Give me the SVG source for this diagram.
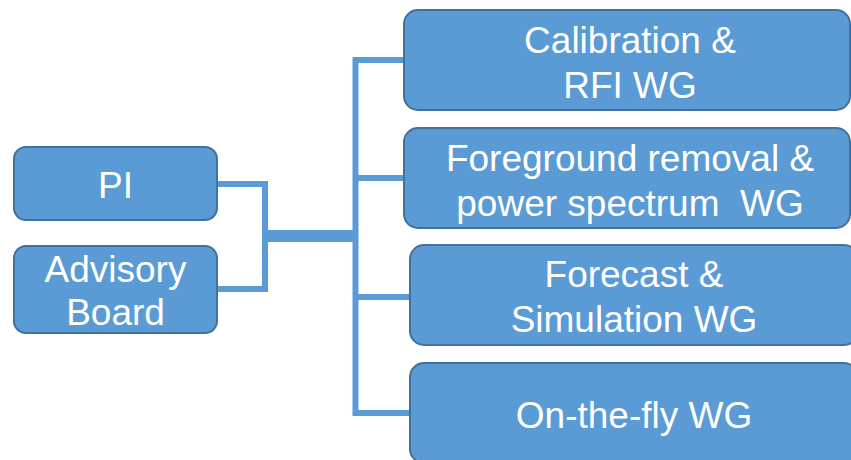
<svg xmlns="http://www.w3.org/2000/svg" width="851" height="460" viewBox="0 0 851 460">
<style>
.box{fill:#5B9BD5;stroke:#41719C;stroke-width:2}
.t{font-family:"Liberation Sans",Arial,sans-serif;font-size:37px;fill:#FFFFFF;text-anchor:middle}
.ln{fill:none;stroke:#5B9BD5;stroke-width:6;stroke-linecap:butt;stroke-linejoin:miter}
</style>
<rect width="851" height="460" fill="#FFFFFF"/>
<g id="connectors">
<path class="ln" d="M217,184 H265 V289 H217"/>
<rect x="268" y="230" width="88" height="12" fill="#5B9BD5"/>
<path class="ln" d="M355.5,57 V416" stroke-width="5"/>
<path class="ln" d="M353,60 H405"/>
<path class="ln" d="M353,178 H405"/>
<path class="ln" d="M353,297 H411"/>
<path class="ln" d="M353,413 H411"/>
</g>
<g id="pi">
<rect class="box" x="14" y="147" width="203" height="73" rx="12"/>
<text class="t" x="115.5" y="198">PI</text>
</g>
<g id="advisory">
<rect class="box" x="14" y="246" width="203" height="87" rx="12"/>
<text class="t" x="115.5" y="282">Advisory</text>
<text class="t" x="115.5" y="325">Board</text>
</g>
<g id="calibration">
<rect class="box" x="404" y="10" width="446" height="100" rx="14"/>
<text class="t" x="630" y="53">Calibration &amp;</text>
<text class="t" x="630" y="98">RFI WG</text>
</g>
<g id="foreground">
<rect class="box" x="404" y="128" width="446" height="100" rx="14"/>
<text class="t" x="630" y="171">Foreground removal &amp;</text>
<text class="t" x="630" y="216" xml:space="preserve">power spectrum  WG</text>
</g>
<g id="forecast">
<rect class="box" x="410" y="245" width="448" height="100" rx="14"/>
<text class="t" x="634" y="287">Forecast &amp;</text>
<text class="t" x="634" y="332">Simulation WG</text>
</g>
<g id="onthefly">
<rect class="box" x="410" y="363" width="448" height="100" rx="14"/>
<text class="t" x="634" y="428">On-the-fly WG</text>
</g>
</svg>
